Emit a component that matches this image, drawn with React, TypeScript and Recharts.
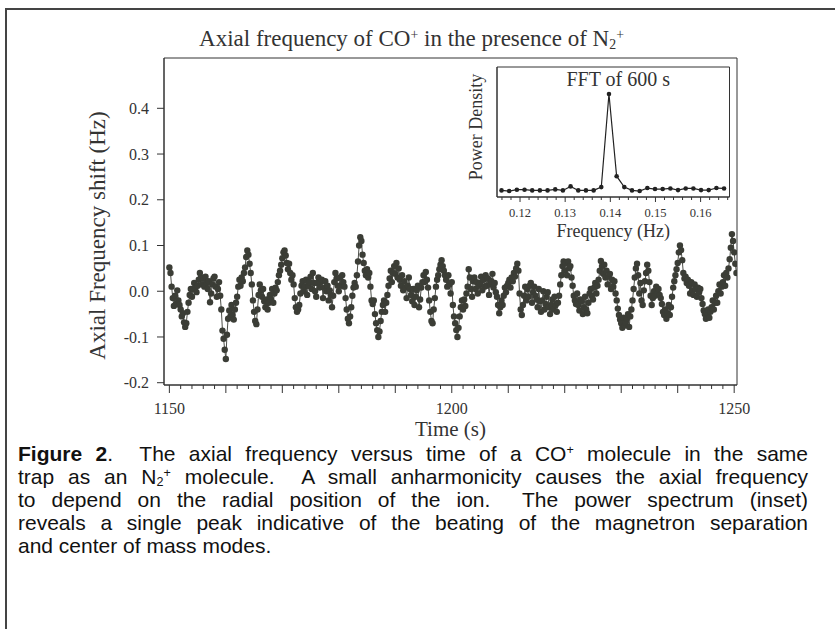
import React from 'react'
import { ComposedChart, Line, XAxis, YAxis, Label, ReferenceArea } from 'recharts'

const INK = '#333'
const DOT = '#3b3d36'
const SERIF = '"Liberation Serif", "Times New Roman", serif'
const SANS = '"Liberation Sans", Arial, sans-serif'

// main trace: axial frequency shift (Hz), sampled every 0.2 s from 1150 s
const timeStart = 1150
const timeStep = 0.2
const freqShift = [
  0.052, 0.04, 0.01, -0.015, -0.032, -0.01, -0.028, 0.002, -0.02, -0.03,
  -0.04, -0.055, -0.048, -0.068, -0.078, -0.07, -0.045, -0.025, -0.008, 0.005,
  -0.012, 0.005, 0.018, 0.008, -0.002, 0.012, 0.025, 0.04, 0.03, 0.015,
  0.028, 0.01, 0.032, 0.018, 0.005, 0.022, -0.024, -0.005, 0.015, 0.028,
  0.032, 0.01, -0.012, 0.005, 0.02, -0.01, -0.04, -0.086, -0.104, -0.128,
  -0.148, -0.095, -0.06, -0.042, -0.055, -0.03, -0.052, -0.062, -0.04, -0.025,
  -0.012, 0.01, 0.025, 0.012, 0.03, 0.022, 0.04, 0.052, 0.075, 0.089,
  0.08, 0.06, 0.04, 0.015, -0.02, -0.045, -0.065, -0.072, -0.04, -0.008,
  0.015, 0.002, -0.012, 0.005, -0.022, -0.035, -0.018, -0.04, -0.025, -0.008,
  -0.018, 0.005, -0.025, -0.005, 0.008, 0.002, 0.02, 0.035, 0.045, 0.058,
  0.072, 0.085, 0.089, 0.078, 0.062, 0.048, 0.06, 0.04, 0.025, 0.035,
  0.015, -0.015, -0.035, -0.045, -0.04, -0.03, -0.005, 0.012, 0.022, 0.0,
  0.01, 0.025, -0.008, 0.012, 0.02, 0.032, 0.005, 0.04, 0.018, 0.0,
  -0.012, 0.018, 0.03, 0.008, 0.02, 0.025, -0.015, 0.008, 0.022, 0.0,
  0.012, -0.02, 0.002, -0.008, -0.035, -0.01, 0.02, 0.04, 0.028, 0.012,
  0.0, 0.03, 0.012, 0.035, 0.02, 0.01, -0.015, -0.04, -0.06, -0.07,
  -0.055, -0.035, -0.01, 0.008, 0.018, 0.01, 0.035, 0.065, 0.1, 0.118,
  0.11, 0.08, 0.062, 0.045, 0.035, 0.048, 0.03, 0.04, 0.01, -0.02,
  -0.028, -0.02, -0.05, -0.07, -0.085, -0.1, -0.088, -0.065, -0.045, -0.03,
  -0.02, -0.045, -0.025, -0.008, 0.012, 0.028, 0.045, 0.02, 0.04, 0.055,
  0.038, 0.062, 0.03, 0.05, 0.025, 0.012, 0.035, 0.002, 0.022, 0.008,
  -0.015, 0.012, 0.03, 0.005, -0.008, -0.022, 0.005, -0.03, -0.012, 0.002,
  0.012, -0.035, -0.018, 0.008, 0.02, 0.035, 0.02, 0.042, 0.025, 0.008,
  -0.02, -0.045, -0.065, -0.07, -0.04, -0.015, 0.01, 0.025, 0.035, 0.048,
  0.058, 0.068, 0.055, 0.045, 0.035, 0.025, 0.01, 0.035, 0.015, -0.005,
  0.02, -0.03, -0.055, -0.07, -0.085, -0.1, -0.08, -0.055, -0.035, -0.02,
  -0.04, -0.018, -0.032, -0.005, 0.01, 0.048, 0.03, 0.005, -0.012, 0.022,
  0.03, 0.005, 0.02, -0.005, 0.012, 0.018, 0.032, 0.002, 0.025, 0.01,
  0.035, 0.012, 0.028, -0.008, 0.015, 0.022, 0.038, 0.008, 0.018, -0.002,
  -0.012, -0.03, -0.048, -0.035, -0.02, -0.03, -0.01, 0.008, -0.002, 0.012,
  0.018, 0.025, 0.008, 0.03, 0.022, 0.04, 0.032, 0.05, 0.06, 0.045,
  -0.005, -0.04, -0.052, -0.03, -0.01, 0.01, -0.02, 0.005, -0.012, 0.012,
  0.018, -0.025, -0.002, 0.01, -0.01, -0.018, -0.035, 0.005, -0.022, -0.045,
  -0.02, 0.0, -0.04, -0.028, -0.012, -0.002, -0.035, -0.05, -0.03, -0.018,
  -0.04, -0.012, -0.03, -0.045, -0.025, -0.01, 0.015, 0.035, 0.055, 0.065,
  0.045, 0.062, 0.035, 0.065, 0.05, 0.055, 0.03, 0.012, -0.01, -0.02,
  -0.028, -0.005, -0.03, -0.042, -0.018, -0.022, -0.05, -0.035, -0.012, -0.04,
  -0.048, -0.025, -0.005, 0.005, -0.01, -0.018, 0.008, 0.018, -0.005, 0.012,
  0.025, 0.045, 0.066, 0.055, 0.038, 0.058, 0.03, 0.045, 0.015, 0.032,
  0.038, 0.005, 0.025, 0.01, 0.022, -0.005, -0.02, -0.038, -0.052, -0.062,
  -0.07, -0.08, -0.058, -0.075, -0.068, -0.06, -0.05, -0.078, -0.055, -0.04,
  -0.02, 0.005, 0.03, 0.05, 0.06, 0.035, -0.005, 0.018, -0.02, -0.03,
  0.002, 0.022, 0.04, 0.058, 0.045, 0.02, -0.01, -0.03, -0.015, 0.0,
  -0.01, 0.01, -0.005, 0.005, -0.008, -0.015, -0.028, -0.045, -0.052, -0.04,
  -0.06, -0.048, -0.03, -0.052, -0.035, -0.012, 0.008, 0.022, 0.035, 0.048,
  0.062, 0.085, 0.1, 0.09, 0.068, 0.04, 0.028, 0.032, 0.018, 0.025,
  0.012, -0.005, 0.02, 0.002, -0.008, 0.015, 0.005, -0.012, 0.008, -0.002,
  0.005, -0.015, -0.028, -0.042, -0.05, -0.06, -0.048, -0.04, -0.058, -0.045,
  -0.035, -0.02, -0.04, -0.025, -0.01, -0.025, 0.0, 0.015, -0.005, 0.01,
  0.02, 0.035, 0.012, 0.04, 0.03, 0.05, 0.07, 0.095, 0.125, 0.11,
  0.085, 0.06, 0.04,
]

const timeDomain = [1149.05, 1250.5]
const shiftDomain = [-0.205, 0.51]
const shiftTicks = [-0.2, -0.1, 0.0, 0.1, 0.2, 0.3, 0.4]
const timeLabels = [1150, 1200, 1250]
const timeMajor = [1150, 1160, 1170, 1180, 1190, 1200, 1210, 1220, 1230, 1240, 1250]
const timeMinor = Array.from({ length: 51 }, (_, i) => 1150 + 2 * i)

// inset: power spectrum
const fftFreq = [
  0.1159, 0.1176, 0.1193, 0.121, 0.1227, 0.1244, 0.1261, 0.1278, 0.1295, 0.1312,
  0.1329, 0.1346, 0.1363, 0.138, 0.1397, 0.1414, 0.1431, 0.1448, 0.1465, 0.1482,
  0.1499, 0.1516, 0.1533, 0.155, 0.1567, 0.1584, 0.1601, 0.1618, 0.1635, 0.1652,
]
const fftPower = [
  0.064, 0.058, 0.071, 0.071, 0.064, 0.064, 0.064, 0.074, 0.064, 0.103,
  0.064, 0.064, 0.064, 0.096, 1.0, 0.202, 0.096, 0.064, 0.058, 0.087,
  0.077, 0.077, 0.083, 0.067, 0.083, 0.083, 0.067, 0.067, 0.087, 0.083,
]
const freqDomain = [0.1149, 0.1664]
const powerDomain = [0, 1.262]
const freqLabels = [0.12, 0.13, 0.14, 0.15, 0.16]
const freqMinor = Array.from({ length: 26 }, (_, i) => +(0.116 + 0.002 * i).toFixed(3))

const series = freqShift.map((v, i) => ({ t: +(timeStart + i * timeStep).toFixed(2), v }))
const spectrum = fftFreq.map((f, i) => ({ f, p: fftPower[i] }))

function TimeTick({ x, y, payload }: any) {
  const val = payload.value
  const major = timeMajor.includes(val)
  return (
    <g>
      <line x1={x} x2={x} y1={y} y2={y + (major ? 8 : 4)} stroke={INK} />
      {timeLabels.includes(val) && (
        <text x={x} y={y + 29} textAnchor="middle" fill={INK} fontSize={16} fontFamily={SERIF}>
          {val}
        </text>
      )}
    </g>
  )
}

function FreqTick({ x, y, payload }: any) {
  const val = payload.value
  const major = freqLabels.some((l) => Math.abs(l - val) < 1e-6)
  return (
    <g>
      <line x1={x} x2={x} y1={y} y2={y + (major ? 5 : 3)} stroke={INK} />
      {major && (
        <text x={x} y={y + 20} textAnchor="middle" fill={INK} fontSize={12.5} fontFamily={SERIF}>
          {val.toFixed(2)}
        </text>
      )}
    </g>
  )
}

function MainChart() {
  return (
    <ComposedChart
      width={835}
      height={470}
      data={series}
      margin={{ top: 58, right: 98, bottom: 25, left: 94 }}
    >
      <XAxis
        xAxisId="t"
        dataKey="t"
        type="number"
        domain={timeDomain}
        allowDataOverflow
        ticks={timeMinor}
        interval={0}
        tick={<TimeTick />}
        tickLine={false}
        tickSize={0}
        tickMargin={0}
        height={60}
        axisLine={{ stroke: INK }}
      >
        <Label
          content={({ viewBox }: any) => (
            <text
              x={viewBox.x + viewBox.width / 2}
              y={viewBox.y + 51}
              textAnchor="middle"
              fill={INK}
              fontSize={21}
              fontFamily={SERIF}
            >
              Time (s)
            </text>
          )}
        />
      </XAxis>
      <YAxis
        yAxisId="v"
        type="number"
        domain={shiftDomain}
        allowDataOverflow
        ticks={shiftTicks}
        interval={0}
        tickFormatter={(v: number) => v.toFixed(1)}
        tick={{ fill: INK, fontSize: 16, fontFamily: SERIF }}
        tickSize={7}
        tickMargin={8}
        tickLine={{ stroke: INK }}
        axisLine={{ stroke: INK }}
        width={70}
      >
        <Label
          content={({ viewBox }: any) => {
            const cx = viewBox.x + 3
            const cy = viewBox.y + viewBox.height / 2 + 14
            return (
              <text
                x={cx}
                y={cy}
                transform={`rotate(-90 ${cx} ${cy})`}
                textAnchor="middle"
                dominantBaseline="central"
                fill={INK}
                fontSize={23}
                fontFamily={SERIF}
              >
                Axial Frequency shift (Hz)
              </text>
            )
          }}
        />
      </YAxis>
      <ReferenceArea
        xAxisId="t"
        yAxisId="v"
        x1={timeDomain[0]}
        x2={timeDomain[1]}
        y1={shiftDomain[0]}
        y2={shiftDomain[1]}
        fill="none"
        stroke={INK}
        ifOverflow="visible"
      />
      <Line
        xAxisId="t"
        yAxisId="v"
        dataKey="v"
        type="linear"
        stroke="#4c4e48"
        strokeWidth={1}
        dot={{ r: 3.2, fill: DOT, stroke: 'none' }}
        activeDot={false}
        isAnimationActive={false}
      />
    </ComposedChart>
  )
}

function InsetChart() {
  return (
    <ComposedChart
      width={300}
      height={200}
      data={spectrum}
      margin={{ top: 17, right: 10.5, bottom: 13, left: 17 }}
    >
      <XAxis
        xAxisId="f"
        dataKey="f"
        type="number"
        domain={freqDomain}
        allowDataOverflow
        ticks={freqMinor}
        interval={0}
        tick={<FreqTick />}
        tickLine={false}
        tickSize={0}
        tickMargin={0}
        height={40}
        axisLine={{ stroke: INK }}
      >
        <Label
          content={({ viewBox }: any) => (
            <text
              x={viewBox.x + viewBox.width / 2}
              y={viewBox.y + 40}
              textAnchor="middle"
              fill={INK}
              fontSize={18}
              fontFamily={SERIF}
            >
              Frequency (Hz)
            </text>
          )}
        />
      </XAxis>
      <YAxis
        yAxisId="p"
        type="number"
        domain={powerDomain}
        allowDataOverflow
        tick={false}
        tickLine={false}
        width={40}
        axisLine={{ stroke: INK }}
      >
        <Label
          content={({ viewBox }: any) => {
            const cx = viewBox.x + 19
            const cy = viewBox.y + viewBox.height / 2 - 5
            return (
              <text
                x={cx}
                y={cy}
                transform={`rotate(-90 ${cx} ${cy})`}
                textAnchor="middle"
                dominantBaseline="central"
                fill={INK}
                fontSize={18}
                fontFamily={SERIF}
              >
                Power Density
              </text>
            )
          }}
        />
      </YAxis>
      <ReferenceArea
        xAxisId="f"
        yAxisId="p"
        x1={freqDomain[0]}
        x2={freqDomain[1]}
        y1={powerDomain[0]}
        y2={powerDomain[1]}
        fill="#fff"
        fillOpacity={1}
        stroke={INK}
        ifOverflow="visible"
        label={({ viewBox }: any) => (
          <text
            x={viewBox.x + viewBox.width / 2 + 5}
            y={viewBox.y + 19}
            textAnchor="middle"
            fill={INK}
            fontSize={20}
            fontFamily={SERIF}
          >
            FFT of 600 s
          </text>
        )}
      />
      <Line
        xAxisId="f"
        yAxisId="p"
        dataKey="p"
        type="linear"
        stroke="#222"
        strokeWidth={1.2}
        dot={{ r: 2.3, fill: '#222', stroke: 'none' }}
        activeDot={false}
        isAnimationActive={false}
      />
    </ComposedChart>
  )
}

const small: React.CSSProperties = { fontSize: '0.6em', lineHeight: 0, position: 'relative' }

function Ion({ base, sub }: { base: string; sub?: string }) {
  return (
    <span style={{ whiteSpace: 'nowrap' }}>
      {base}
      {sub && <span style={{ ...small, top: '0.2em' }}>{sub}</span>}
      <span style={{ ...small, top: '-0.5em' }}>+</span>
    </span>
  )
}

const lineStyle: React.CSSProperties = { textAlign: 'justify', textAlignLast: 'justify', height: 23 }

export default function App() {
  return (
    <div
      style={{
        position: 'absolute',
        left: 0,
        top: 0,
        width: 835,
        height: 629,
        overflow: 'hidden',
        background: '#fff',
      }}
    >
      <div
        style={{
          position: 'absolute',
          left: 5,
          top: 8,
          width: 900,
          height: 700,
          border: '2px solid #444',
        }}
      />
      <div
        style={{
          position: 'absolute',
          left: 0,
          top: 26,
          width: 823,
          textAlign: 'center',
          fontFamily: SERIF,
          fontSize: 23,
          lineHeight: '26px',
          color: INK,
        }}
      >
        Axial frequency of <Ion base="CO" /> in the presence of <Ion base="N" sub="2" />
      </div>
      <div style={{ position: 'absolute', left: 0, top: 0 }}>
        <MainChart />
      </div>
      <div style={{ position: 'absolute', left: 440, top: 50 }}>
        <InsetChart />
      </div>
      <div
        style={{
          position: 'absolute',
          left: 18,
          top: 441.5,
          width: 790,
          fontFamily: SANS,
          fontSize: 21,
          lineHeight: '23px',
          color: '#111',
        }}
      >
        <div style={lineStyle}>
          <b>Figure 2</b>.{'\u00a0 '}The axial frequency versus time of a <Ion base="CO" /> molecule in the same
        </div>
        <div style={lineStyle}>
          trap as an <Ion base="N" sub="2" /> molecule.{'\u00a0 '}A small anharmonicity causes the axial frequency
        </div>
        <div style={lineStyle}>
          to depend on the radial position of the ion.{'\u00a0 '}The power spectrum (inset)
        </div>
        <div style={lineStyle}>
          reveals a single peak indicative of the beating of the magnetron separation
        </div>
        <div style={{ height: 23 }}>and center of mass modes.</div>
      </div>
    </div>
  )
}
